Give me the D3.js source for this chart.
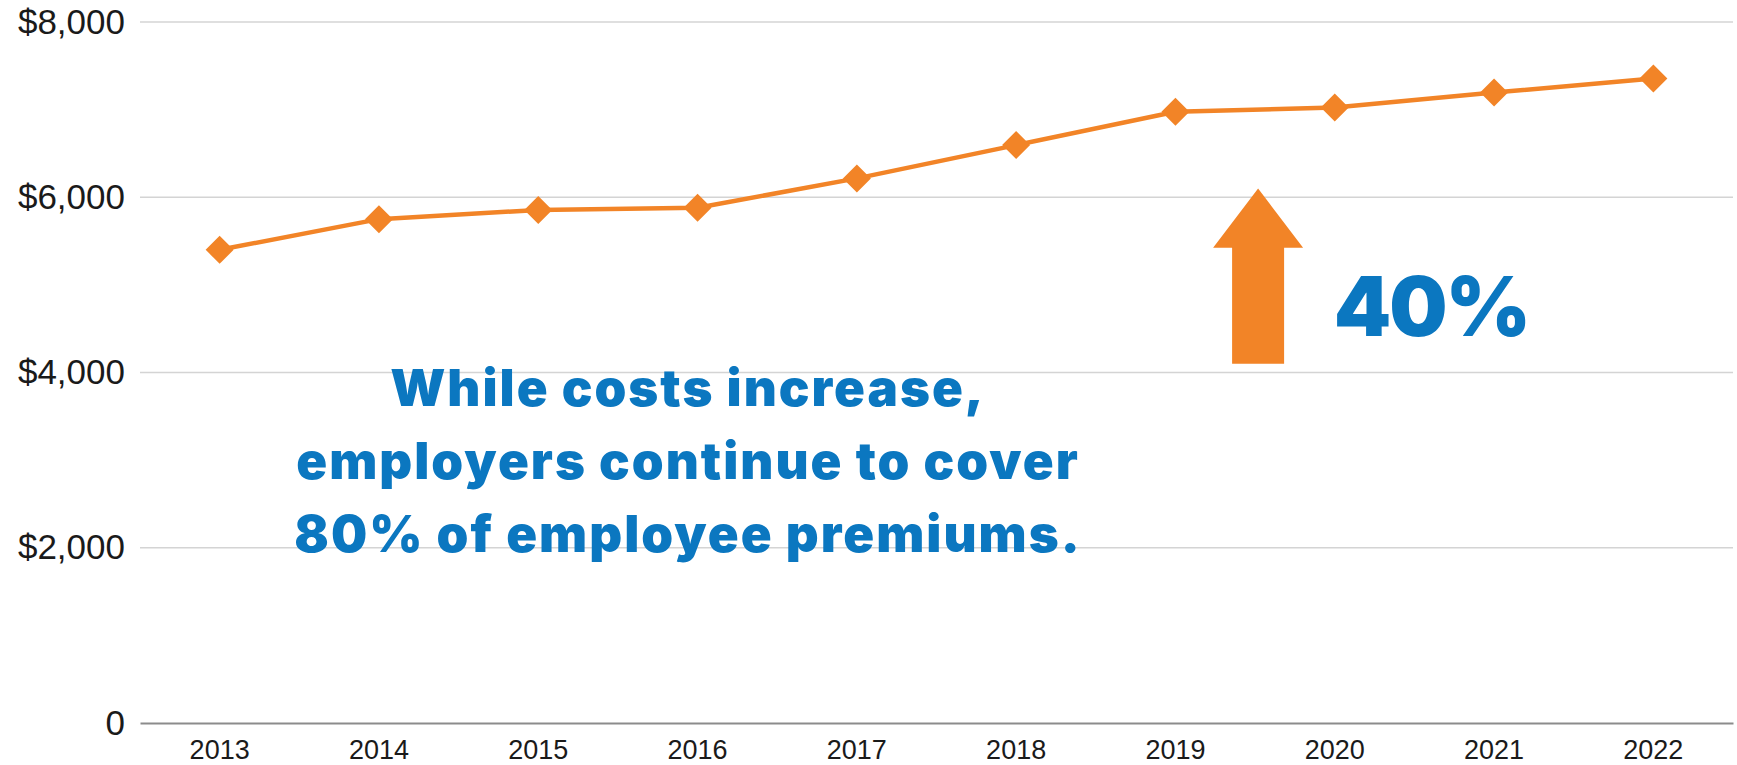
<!DOCTYPE html>
<html>
<head>
<meta charset="utf-8">
<script src="https://cdn.jsdelivr.net/npm/d3@7"></script>
<style>
  html, body { margin: 0; padding: 0; background: #fff; }
  svg { display: block; }
</style>
</head>
<body>
<svg id="chart" width="1737" height="765"></svg>
<script>
// ---- data ----
const years = ["2013", "2014", "2015", "2016", "2017", "2018", "2019", "2020", "2021", "2022"];
const premiums = [5400, 5750, 5855, 5880, 6215, 6595, 6975, 7025, 7195, 7355];
const yTicks = [0, 2000, 4000, 6000, 8000];
const calloutLines = ["While costs increase,", "employers continue to cover", "80% of employee premiums."];
const increaseLabel = "40%";

(function () {
// ---- layout ----
const mLeft = 140, mRight = 1733, mTop = 22, mBottom = 723;
const orange = "#F28427";
const blue = "#0B77C0";

const svg = d3.select("#chart");

const x = d3.scaleBand().domain(years).range([mLeft, mRight]).padding(0);
const y = d3.scaleLinear().domain([0, 8000]).range([mBottom, mTop]);

// gridlines
svg.append("g")
  .selectAll("line")
  .data(yTicks.filter(d => d > 0))
  .join("line")
  .attr("x1", mLeft).attr("x2", mRight)
  .attr("y1", d => y(d)).attr("y2", d => y(d))
  .attr("stroke", "#d4d4d4").attr("stroke-width", 1.5);

// y axis labels
const yFmt = d => d === 0 ? "0" : "$" + d3.format(",")(d);
const yAxis = d3.axisLeft(y).tickValues(yTicks).tickFormat(yFmt).tickSize(0).tickPadding(0);
const gy = svg.append("g").attr("transform", `translate(${mLeft - 15},0)`).call(yAxis);
gy.select(".domain").remove();
gy.selectAll("text")
  .attr("font-family", "'Liberation Sans', Arial, sans-serif")
  .attr("font-size", 35)
  .attr("fill", "#1a1a1a");

// x axis
const xAxis = d3.axisBottom(x).tickSize(0).tickPadding(0);
const gx = svg.append("g").attr("transform", `translate(0,${mBottom})`).call(xAxis);
gx.select(".domain").attr("stroke", "#8c8c8c").attr("stroke-width", 2);
gx.selectAll("text")
  .attr("font-family", "'Liberation Sans', Arial, sans-serif")
  .attr("font-size", 27)
  .attr("fill", "#1a1a1a")
  .attr("dy", null)
  .attr("y", 36);

// line
const cx = d => x(d) + x.bandwidth() / 2;
const pts = years.map((yr, i) => ({ yr, v: premiums[i] }));
svg.append("path")
  .datum(pts)
  .attr("fill", "none")
  .attr("stroke", orange)
  .attr("stroke-width", 4.5)
  .attr("stroke-linejoin", "round")
  .attr("d", d3.line().x(d => cx(d.yr)).y(d => y(d.v)));

// diamond markers
svg.append("g")
  .selectAll("path")
  .data(pts)
  .join("path")
  .attr("transform", d => `translate(${cx(d.yr)},${y(d.v)})`)
  .attr("d", "M0,-14L14,0L0,14L-14,0Z")
  .attr("fill", orange);

// arrow annotation (between 2019 and 2020)
const ax = (cx("2019") + cx("2020")) / 2 + 3;
const aTop = y(6100), aBottom = y(4100), aHead = y(5425);
const headHalf = 45, shaftHalf = 26;
svg.append("path")
  .attr("d", `M${ax},${aTop}L${ax + headHalf},${aHead}L${ax + shaftHalf},${aHead}L${ax + shaftHalf},${aBottom}L${ax - shaftHalf},${aBottom}L${ax - shaftHalf},${aHead}L${ax - headHalf},${aHead}Z`)
  .attr("fill", orange);

// 40% label
svg.append("text")
  .attr("x", cx("2020") - 1)
  .attr("y", y(4420))
  .attr("font-family", "Inter, 'Noto Sans', sans-serif")
  .attr("font-weight", 900)
  .attr("font-size", 82)
  .attr("letter-spacing", -2)
  .attr("fill", blue)
  .text(increaseLabel);

// callout text
svg.append("g")
  .selectAll("text")
  .data(calloutLines)
  .join("text")
  .attr("x", 688)
  .attr("y", (d, i) => 406 + i * 73)
  .attr("text-anchor", "middle")
  .attr("font-family", "Inter, 'Noto Sans', sans-serif")
  .attr("font-weight", 900)
  .attr("font-size", 51)
  .attr("letter-spacing", 2.0)
  .attr("fill", blue)
  .text(d => d);
})();
</script>
</body>
</html>
